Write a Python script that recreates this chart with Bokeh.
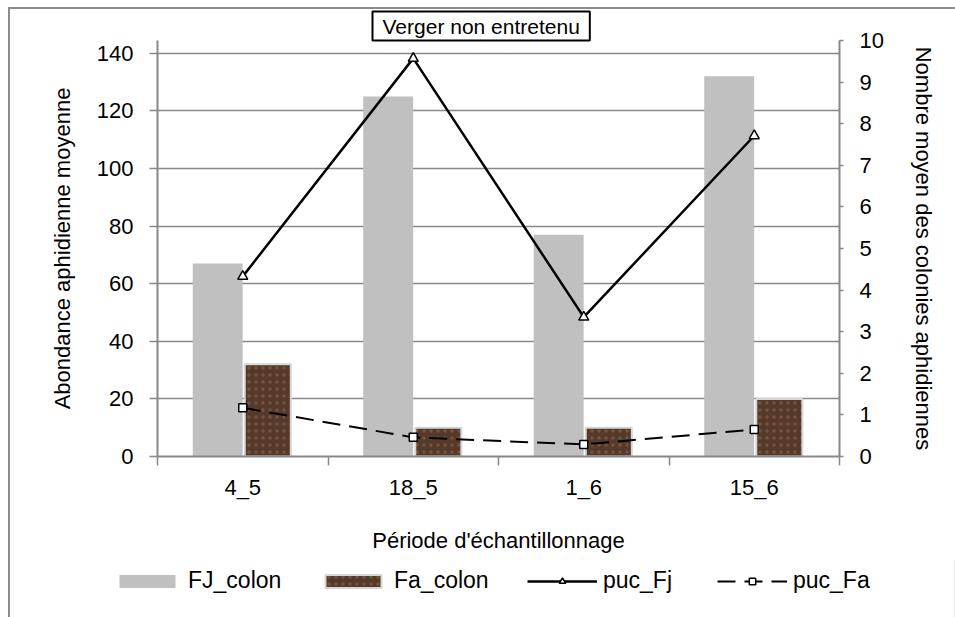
import numpy as np
from bokeh.plotting import figure
from bokeh.models import (Range1d, LinearAxis, FixedTicker, Legend, LegendItem,
                          Title, ColumnDataSource)
from bokeh.embed import file_html
from bokeh.resources import INLINE

# ---- data ----
periods = ["4_5", "18_5", "1_6", "15_6"]
fj_colon = [67, 125, 77, 132]
fa_colon = [32, 10, 10, 20]
puc_fj = [4.33, 9.57, 3.35, 7.71]
puc_fa = [1.17, 0.46, 0.29, 0.65]
left_ticks = [0, 20, 40, 60, 80, 100, 120, 140]
right_ticks = [0, 1, 2, 3, 4, 5, 6, 7, 8, 9, 10]
series_names = ["FJ_colon", "Fa_colon", "puc_Fj", "puc_Fa"]

FONT = "Liberation Sans"
GRAY = "#888888"
FJ_COLOR = "#c0c0c0"
FA_COLOR = "#553a29"
FA_EDGE = "#d6d6d6"

LEFT, RIGHT = 157, 116

xc = np.arange(len(periods)) + 0.5
src = ColumnDataSource(dict(
    x=xc, x_fj=xc - 0.147, x_fa=xc + 0.147,
    fj=fj_colon, fa=fa_colon, pfj=puc_fj, pfa=puc_fa))

LINE_BG = "linear-gradient(#8c8c8c, #8c8c8c)"
border_top_css = (f"{LINE_BG} 8px 7px / 2px 100% no-repeat, "
                  f"{LINE_BG} 8px 7px / 100% 2px no-repeat, white")
border_left_css = f"{LINE_BG} 8px 0px / 2px 100% no-repeat, white"

p = figure(width=955, height=560, x_range=Range1d(0, 4), y_range=Range1d(0, 144.4),
           output_backend="svg", toolbar_location=None,
           min_border_left=LEFT, min_border_right=RIGHT, min_border_top=40,
           min_border_bottom=104, styles={"background": border_top_css})
p.outline_line_color = None
p.background_fill_color = "white"
p.border_fill_alpha = 0
p.extra_y_ranges = {"right": Range1d(0, 10)}

# title box
p.title = Title(text="Verger non entretenu", align="left", offset=215, standoff=0,
                text_font=FONT, text_font_size="21px", text_font_style="normal",
                text_color="black", border_line_color="black", border_line_width=2,
                background_fill_color="white",
                padding=dict(left=10, right=10, top=3, bottom=3))

# styles
BAR_FJ = dict(fill_color=FJ_COLOR, line_color=None)
BAR_FA = dict(fill_color=FA_COLOR, line_color=FA_EDGE, line_width=2,
              hatch_pattern="dot", hatch_color="#8a6a52", hatch_alpha=0.55,
              hatch_scale=7, hatch_weight=2)
LINE_FJ = dict(line_color="black", line_width=2.5)
MARK_FJ = dict(marker="triangle", size=10, fill_color="white", line_color="black", line_width=1.5)
LINE_FA = dict(line_color="black", line_width=2, line_dash="18 9")
MARK_FA = dict(marker="square", size=8, fill_color="white", line_color="black", line_width=1.5)

# bars
p.vbar(x="x_fj", top="fj", width=0.293, source=src, **BAR_FJ)
p.vbar(x="x_fa", top="fa", width=0.27, source=src, **BAR_FA)

# lines
p.line(x="x", y="pfj", source=src, y_range_name="right", **LINE_FJ)
p.scatter(x="x", y="pfj", source=src, y_range_name="right", **MARK_FJ)
p.line(x="x", y="pfa", source=src, y_range_name="right", **LINE_FA)
p.scatter(x="x", y="pfa", source=src, y_range_name="right", **MARK_FA)

# grid
p.xgrid.visible = False
p.ygrid.ticker = FixedTicker(ticks=left_ticks[1:])
p.ygrid.grid_line_color = GRAY
p.ygrid.grid_line_width = 1.5

# x axis
xa = p.xaxis[0]
xa.ticker = FixedTicker(ticks=list(xc), minor_ticks=list(range(len(periods) + 1)))
xa.major_label_overrides = {float(v): lab for v, lab in zip(xc, periods)}
xa.major_tick_out = 0
xa.major_tick_in = 0
xa.minor_tick_out = 9
xa.minor_tick_in = 0
xa.minor_tick_line_color = GRAY
xa.minor_tick_line_width = 1.5
xa.axis_line_color = GRAY
xa.axis_line_width = 2
xa.major_label_text_font = FONT
xa.major_label_text_font_size = "22px"
xa.major_label_text_color = "black"
xa.major_label_standoff = 9
xa.axis_label = "Période d'échantillonnage"
xa.axis_label_text_font = FONT
xa.axis_label_text_font_size = "22px"
xa.axis_label_text_font_style = "normal"
xa.axis_label_text_color = "black"
xa.axis_label_standoff = 25

# left axis
ya = p.yaxis[0]
ya.ticker = FixedTicker(ticks=left_ticks)
ya.major_tick_out = 8
ya.major_tick_in = 0
ya.minor_tick_out = 0
ya.minor_tick_in = 0
ya.major_tick_line_color = GRAY
ya.major_tick_line_width = 1.5
ya.axis_line_color = GRAY
ya.axis_line_width = 2
ya.major_label_text_font = FONT
ya.major_label_text_font_size = "22px"
ya.major_label_text_color = "black"
ya.major_label_standoff = 16
ya.axis_label = "Abondance aphidienne moyenne"
ya.axis_label_text_font = FONT
ya.axis_label_text_font_size = "22px"
ya.axis_label_text_font_style = "normal"
ya.axis_label_text_color = "black"
ya.axis_label_standoff = 19

# right axis
ra = LinearAxis(y_range_name="right", ticker=FixedTicker(ticks=right_ticks))
ra.major_tick_out = 4
ra.major_tick_in = 0
ra.minor_tick_out = 0
ra.minor_tick_in = 0
ra.major_tick_line_color = GRAY
ra.major_tick_line_width = 1.5
ra.axis_line_color = GRAY
ra.axis_line_width = 2
ra.major_label_text_font = FONT
ra.major_label_text_font_size = "22px"
ra.major_label_text_color = "black"
ra.major_label_standoff = 16
ra.axis_label = "Nombre moyen des colonies aphidiennes"
ra.axis_label_text_font = FONT
ra.axis_label_text_font_size = "22px"
ra.axis_label_text_font_style = "normal"
ra.axis_label_text_color = "black"
ra.axis_label_standoff = 24
p.add_layout(ra, "right")

# ---- legend strip: a second root below the chart, full-width frame ----
lg = figure(width=955, height=57, x_range=Range1d(0, 1), y_range=Range1d(0, 1),
            output_backend="svg", toolbar_location=None,
            x_axis_location=None, y_axis_location=None,
            min_border=0, min_border_left=0, min_border_right=0,
            min_border_top=0, min_border_bottom=0,
            styles={"background": border_left_css})
lg.grid.visible = False
lg.outline_line_color = None
lg.background_fill_alpha = 0
lg.border_fill_alpha = 0
# legend proxies: one point each, far outside the visible range (to the right)
e_fj = lg.vbar(x=[50], top=[1], width=0.1, **BAR_FJ)
e_fa = lg.vbar(x=[50], top=[1], width=0.1, **BAR_FA)
e_lfj = lg.line(x=[50, 51], y=[0.5, 0.5], **LINE_FJ)
e_mfj = lg.scatter(x=[50], y=[0.5], **MARK_FJ)
e_lfa = lg.line(x=[50, 51], y=[0.5, 0.5], **LINE_FA)
e_mfa = lg.scatter(x=[50], y=[0.5], **MARK_FA)
proxies = [[e_fj], [e_fa], [e_lfj, e_mfj], [e_lfa, e_mfa]]
item_left = [112, 318, 527, 717]   # screen x of each legend entry in the reference

for name, rends, xl in zip(series_names, proxies, item_left):
    leg = Legend(items=[LegendItem(label=name, renderers=rends)],
                 orientation="horizontal", location=(xl, 23))
    leg.label_text_font = FONT
    leg.label_text_font_size = "23px"
    leg.label_text_color = "black"
    leg.glyph_width = 70
    leg.glyph_height = 16
    leg.label_standoff = 6
    leg.padding = 0
    leg.margin = 0
    leg.border_line_color = None
    leg.background_fill_alpha = 0
    lg.add_layout(leg, "center")

open("out.html", "w").write(file_html([p, lg], INLINE))
